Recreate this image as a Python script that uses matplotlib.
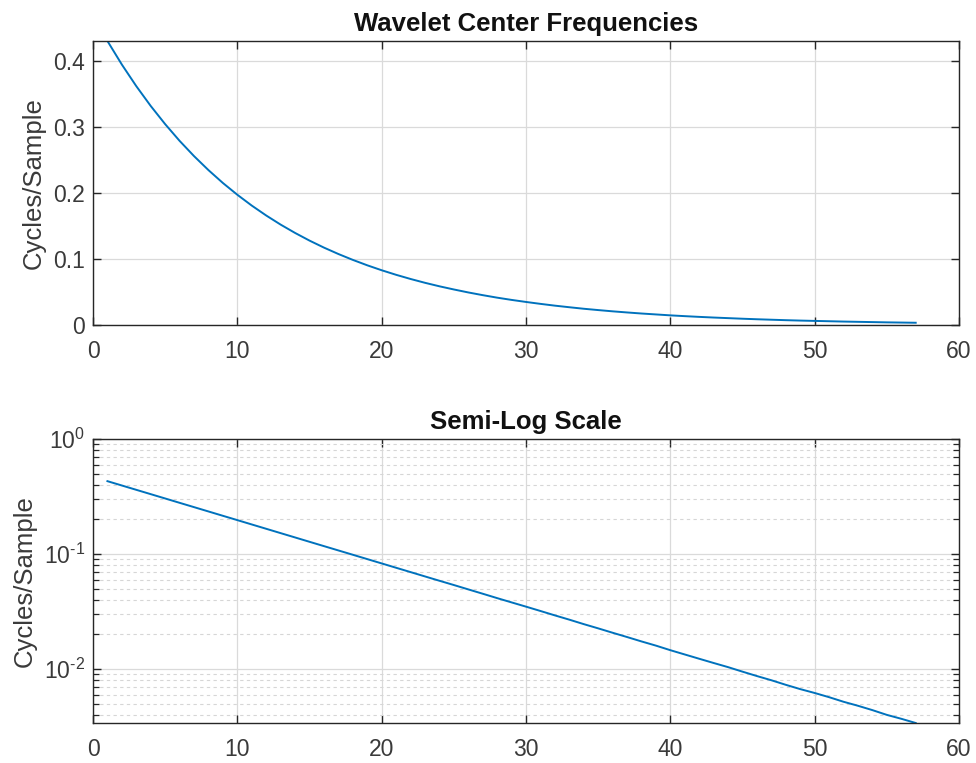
import matplotlib
matplotlib.use("Agg")
import matplotlib.pyplot as plt
from matplotlib.ticker import LogLocator, FixedLocator, NullFormatter

plt.rcParams['font.family'] = ['Liberation Sans', 'DejaVu Sans']
plt.rcParams['mathtext.fontset'] = 'custom'
plt.rcParams['mathtext.rm'] = 'Liberation Sans'
plt.rcParams['mathtext.it'] = 'Liberation Sans:italic'
plt.rcParams['mathtext.bf'] = 'Liberation Sans:bold'

scale_index = list(range(1, 58))
center_freqs = [
    0.4300, 0.3943, 0.3616, 0.3316, 0.3041, 0.2788, 0.2557, 0.2345,
    0.2150, 0.1972, 0.1808, 0.1658, 0.1520, 0.1394, 0.1278, 0.1172,
    0.1075, 0.0986, 0.0904, 0.0829, 0.0760, 0.0697, 0.0639, 0.0586,
    0.0538, 0.0493, 0.0452, 0.0414, 0.0380, 0.0349, 0.0320, 0.0293,
    0.0269, 0.0246, 0.0226, 0.0207, 0.0190, 0.0174, 0.0160, 0.0146,
    0.0134, 0.0123, 0.0113, 0.0104, 0.0095, 0.0087, 0.0080, 0.0073,
    0.0067, 0.0062, 0.0057, 0.0052, 0.0048, 0.0044, 0.0040, 0.0037,
    0.0034,
]
x_ticks = [0, 10, 20, 30, 40, 50, 60]
y_ticks_top = [0, 0.1, 0.2, 0.3, 0.4]
y_tick_labels_top = ['0', '0.1', '0.2', '0.3', '0.4']
y_ticks_log = [1e-2, 1e-1, 1e0]
y_tick_labels_log = [r'$10^{\text{-}2}$', r'$10^{\text{-}1}$', r'$10^{0}$']
titles = ['Wavelet Center Frequencies', 'Semi-Log Scale']
ylabel = 'Cycles/Sample'

W, H = 976, 763
fig = plt.figure(figsize=(W / 100, H / 100), dpi=100)

def rect(l, t, r, b):
    return [l / W, 1 - b / H, (r - l) / W, (b - t) / H]

ax1 = fig.add_axes(rect(93, 41, 959, 325))
ax2 = fig.add_axes(rect(93, 439, 959, 723))

line_color = '#0072BD'
axis_color = '#262626'
text_color = '#3a3a3a'
tick_fs = 16.5
label_fs = 18.5
title_fs = 18.5

for ax in (ax1, ax2):
    ax.plot(scale_index, center_freqs, color=line_color, lw=1.4)
    ax.set_xlim(0, 60)
    ax.set_xticks(x_ticks)
    ax.set_xticklabels([str(v) for v in x_ticks])
    for s in ax.spines.values():
        s.set_color(axis_color)
        s.set_linewidth(1.0)
    ax.tick_params(which='both', direction='in', top=True, right=True,
                   colors=axis_color, labelsize=tick_fs, labelcolor=text_color)
    ax.tick_params(which='major', length=6, width=1.0)
    ax.tick_params(which='minor', length=4, width=0.9)
    ax.tick_params(axis='x', which='major', pad=11)
    ax.tick_params(axis='y', which='major', pad=6)
    ax.grid(True, which='major', color='#dadada', lw=0.9)
    ax.set_axisbelow(True)
    ax.set_ylabel(ylabel, fontsize=label_fs, color=text_color, labelpad=5)

ax1.set_ylim(0, max(center_freqs))
ax1.set_yticks(y_ticks_top)
ax1.set_yticklabels(y_tick_labels_top)
ax1.set_title(titles[0], fontsize=title_fs, fontweight='bold', color='#111111', pad=7)

ax2.set_yscale('log')
ax2.set_ylim(min(center_freqs), 1)
ax2.yaxis.set_major_locator(FixedLocator(y_ticks_log))
ax2.set_yticklabels(y_tick_labels_log)
ax2.yaxis.set_minor_locator(LogLocator(base=10, subs=range(2, 10), numticks=20))
ax2.yaxis.set_minor_formatter(NullFormatter())
ax2.grid(True, which='minor', axis='y', color='#d6d6d6', lw=0.8, ls=(0, (3, 3)))
ax2.set_title(titles[1], fontsize=title_fs, fontweight='bold', color='#111111', pad=7)

fig.savefig('out.png', dpi=100)
